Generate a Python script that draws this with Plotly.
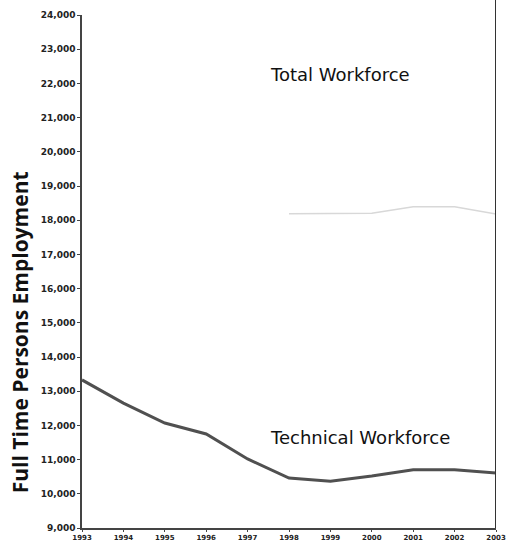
import plotly.graph_objects as go

years = [1993, 1994, 1995, 1996, 1997, 1998, 1999, 2000, 2001, 2002, 2003]
technical = [13330, 12650, 12070, 11750, 11020, 10460, 10370, 10520, 10700, 10700, 10610]
total_years = [1998, 1999, 2000, 2001, 2002, 2003]
total = [18190, 18190, 18200, 18390, 18390, 18180]
y_ticks = list(range(9000, 24001, 1000))

font_family = "'DejaVu Sans', sans-serif"

fig = go.Figure()
fig.add_trace(go.Scatter(x=total_years, y=total, mode="lines",
                         line=dict(color="#d8d8d8", width=1.5), showlegend=False))
fig.add_trace(go.Scatter(x=years, y=technical, mode="lines",
                         line=dict(color="#505050", width=3), showlegend=False))

fig.add_annotation(x=1997.5, y=22250, text="Total Workforce", showarrow=False,
                   xanchor="left", yanchor="middle",
                   font=dict(family=font_family, size=18, color="#111"))
fig.add_annotation(x=1997.5, y=11660, text="Technical Workforce", showarrow=False,
                   xanchor="left", yanchor="middle",
                   font=dict(family=font_family, size=18, color="#111"))
fig.add_annotation(xref="paper", yref="paper", x=-0.149, y=0.382,
                   text="Full Time Persons Employment", showarrow=False,
                   textangle=-90, xanchor="center", yanchor="middle",
                   font=dict(family="'Open Sans', sans-serif", size=21, color="#111",
                             weight="bold"))

fig.update_layout(
    width=508, height=541,
    margin=dict(l=82, r=12, t=15, b=13),
    paper_bgcolor="white", plot_bgcolor="white",
    font=dict(family=font_family, color="#222"),
)
fig.update_xaxes(range=[1993, 2003], tickvals=years, ticktext=[str(y) for y in years],
                 showgrid=False, zeroline=False, showline=True, linecolor="#444",
                 linewidth=1.5, ticks="outside", ticklen=2, tickcolor="#444",
                 tickfont=dict(size=7, family=font_family, color="#222", weight="bold"),
                 automargin=False)
fig.update_yaxes(range=[9000, 24000], tickvals=y_ticks,
                 ticktext=[f"{v:,}" for v in y_ticks],
                 showgrid=False, zeroline=False, showline=True, linecolor="#444",
                 linewidth=1.5, ticks="outside", ticklen=3, tickcolor="#444",
                 tickfont=dict(size=9, family=font_family, color="#222", weight="bold"),
                 automargin=False)
# right border line
fig.add_shape(type="line", xref="x", yref="paper", x0=2003, x1=2003, y0=0, y1=1.03,
              line=dict(color="#333", width=2))

# remove the browser's default 8px body margin so the figure fills the window
fig.write_html("out.html", config={"displayModeBar": False},
               post_script="document.body.style.margin='0';")
